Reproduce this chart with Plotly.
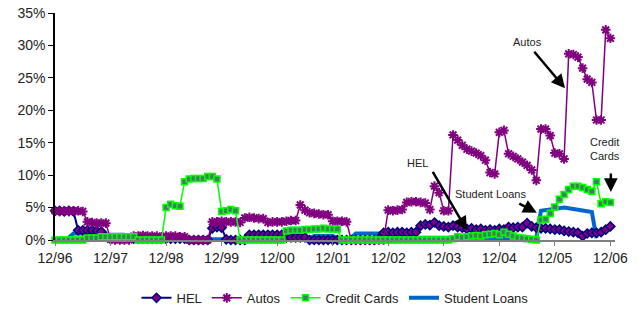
import plotly.graph_objects as go

# month index 0 = Dec-96 ... 120 = Dec-06
months = list(range(121))
tick_pos = [0, 12, 24, 36, 48, 60, 72, 84, 96, 108, 120]
tick_labels = ["12/96", "12/97", "12/98", "12/99", "12/00", "12/01",
               "12/02", "12/03", "12/04", "12/05", "12/06"]
y_ticks = [0, 5, 10, 15, 20, 25, 30, 35]
y_tick_labels = ["0%", "5%", "10%", "15%", "20%", "25%", "30%", "35%"]

hel = ([4.5, 4.5, 4.4, 4.5, 4.4] +
       [1.5, 1.5, 1.5, 1.5, 1.4, 1.3] +
       [0.5] +
       [0.2] * 17 +
       [0.0] * 5 +
       [1.8, 2.0, 1.9, 0.1] +
       [0.0] * 4 +
       [0.8] * 8 +
       [0.4] * 5 +
       [0.0] * 15 + [0.2] +
       [1.1, 1.2, 1.1, 1.2, 1.2, 1.1, 1.2, 1.2] +
       [2.2, 2.4, 2.3, 2.7, 2.2, 2.1, 2.0, 2.2, 2.0, 1.9, 1.7, 1.8, 1.6, 1.7,
        1.5, 1.6, 1.5, 1.7, 1.6, 2.0, 1.9, 2.0, 2.0, 2.6, 2.1, 1.9, 1.8, 1.8,
        1.7, 1.6, 1.6, 1.4, 1.3, 1.2, 1.1, 0.6, 1.0, 1.1, 1.1, 1.2, 1.6, 2.1])

autos = ([4.5, 4.4, 4.5, 4.4, 4.5, 4.5, 4.4] +
         [2.8, 2.7, 2.6, 2.6, 2.6] +
         [0.1, 0.0, 0.0, 0.0, 0.0] +
         [0.6, 0.6, 0.7, 0.6, 0.6, 0.6, 0.5, 0.6, 0.6, 0.6, 0.5, 0.5] +
         [0.0] * 5 +
         [2.8, 2.8, 2.9, 2.8, 2.8, 2.8, 2.7] +
         [3.4, 3.5, 3.4, 3.3, 3.3] +
         [2.7, 2.8, 2.8, 2.8, 2.9, 3.0] +
         [3.0, 5.4, 4.6, 4.2, 4.1, 4.0, 3.9, 3.9] +
         [2.9, 2.9, 2.9, 2.8] +
         [0.0] * 8 +
         [4.6, 4.5, 4.6, 4.7] +
         [5.8, 5.9, 5.9, 5.8, 5.7] +
         [4.7, 8.3, 7.3, 4.5, 4.5] +
         [16.2, 15.4, 14.6, 14.0, 13.7, 13.4, 13.0, 12.3, 10.4, 10.2,
          16.6, 16.9, 13.3, 12.9, 12.5, 12.0, 11.5, 10.8, 9.2,
          17.1, 17.1, 16.1, 13.4, 13.3, 12.5,
          28.7, 28.6, 28.2, 26.5, 24.8, 24.3, 18.5, 18.5, 32.4, 31.1])

credit_cards = ([0.0] * 7 +
                [0.3] * 3 +
                [0.5] * 8 +
                [0.0] * 6 +
                [5.0, 5.5, 5.3, 5.2] +
                [9.0, 9.4, 9.5, 9.5, 9.5, 9.8, 9.8, 9.4] +
                [4.4, 4.5, 4.7, 4.5] +
                [0.0] * 10 +
                [1.4, 1.5, 1.5, 1.5, 1.6, 1.6, 1.7, 1.7, 1.8, 1.7, 1.7, 1.7] +
                [0.0] * 22 +
                [0.0, 0.0, 0.2, 0.5, 0.4, 0.5, 0.6, 0.7, 0.6, 0.8, 0.9, 1.0,
                 0.8, 1.2, 0.9, 0.6, 0.4, 0.3, 0.2, 0.1, 0.0] +
                [3.1, 3.2, 4.1, 5.1, 6.3, 7.0, 7.8, 8.3, 8.3, 8.1, 7.8, 7.5,
                 9.0, 5.6, 5.9, 5.8])

student_loans = ([None] * 3 +
                 [0.4] + [1.0] * 6 + [0.8] * 6 + [0.5] +
                 [0.1] * 36 +
                 [0.3] * 3 + [0.6] * 5 + [0.3] * 4 + [1.0] * 6 +
                 [0.4] * 33 +
                 [0.3] +
                 [4.5, 4.6, 4.6, 4.7, 4.8, 5.0, 4.9, 4.8, 4.7, 4.6, 4.5, 4.3, 0.3] +
                 [None] * 3)

FONT = "Liberation Sans, Arial, sans-serif"

fig = go.Figure()
fig.add_trace(go.Scatter(
    x=months, y=student_loans, name="Student Loans", mode="lines",
    line=dict(color="#0066CC", width=4), cliponaxis=False, legendrank=4))
fig.add_trace(go.Scatter(
    x=months, y=hel, name="HEL", mode="lines+markers",
    line=dict(color="#000080", width=2),
    marker=dict(symbol="diamond", size=7, color="#800080",
                line=dict(color="#000080", width=1.5)),
    cliponaxis=False, legendrank=1))
fig.add_trace(go.Scatter(
    x=months, y=autos, name="Autos", mode="lines+markers",
    line=dict(color="#800080", width=1.5),
    marker=dict(symbol="asterisk-open", size=8,
                line=dict(color="#800080", width=2)),
    cliponaxis=False, legendrank=2))
fig.add_trace(go.Scatter(
    x=months, y=credit_cards, name="Credit Cards", mode="lines+markers",
    line=dict(color="#00FF00", width=1.5),
    marker=dict(symbol="square", size=6, color="#3F7F60",
                line=dict(color="#00FF00", width=1.5)),
    cliponaxis=False, legendrank=3))

arrows = [
    (110.2, 23.4, -32, -38),
    (89.0, 1.5, -35, -60),
    (104.1, 4.2, -19, -10),
    (120.1, 7.4, 0, -20),
]
for (ax_x, ax_y, dx, dy) in arrows:
    fig.add_annotation(x=ax_x, y=ax_y, ax=dx, ay=dy, text="", showarrow=True,
                       arrowhead=2, arrowsize=1.1, arrowwidth=2.5,
                       arrowcolor="black")

labels = [
    ("Autos", 102.0, 30.5),
    ("HEL", 78.4, 11.9),
    ("Student Loans", 94.0, 7.1),
    ("Credit<br>Cards", 118.8, 14.0),
]
for (txt, lx, ly) in labels:
    fig.add_annotation(x=lx, y=ly, text=txt, showarrow=False,
                       xanchor="center", yanchor="middle",
                       font=dict(family=FONT, size=11, color="#222222"))

fig.update_layout(
    width=637, height=318, autosize=False,
    margin=dict(l=55, r=22, t=13, b=78, autoexpand=False),
    paper_bgcolor="white", plot_bgcolor="white",
    font=dict(family=FONT, size=14, color="#222222"),
    showlegend=True,
    legend=dict(orientation="h", x=0.5, xanchor="center",
                y=-0.255, yanchor="middle",
                font=dict(family=FONT, size=13), itemwidth=30,
                tracegroupgap=0),
    xaxis=dict(range=[0, 121], tickmode="array", tickvals=tick_pos,
               ticktext=tick_labels, showline=True, linecolor="#808080",
               linewidth=1.5, ticks="outside", ticklen=4,
               tickcolor="#808080", showgrid=False, zeroline=False,
               tickfont=dict(size=14), automargin=False),
    yaxis=dict(range=[0, 35], tickmode="array",
               tickvals=y_ticks, ticktext=y_tick_labels,
               showline=True, linecolor="black", linewidth=1.5,
               ticks="outside", ticklen=5, tickcolor="black",
               showgrid=False, zeroline=False, tickfont=dict(size=14),
               automargin=False),
)

fig.write_html("out.html",
               config={"displayModeBar": False},
               post_script="document.body.style.margin='0';"
                           "document.body.style.overflow='hidden';")
